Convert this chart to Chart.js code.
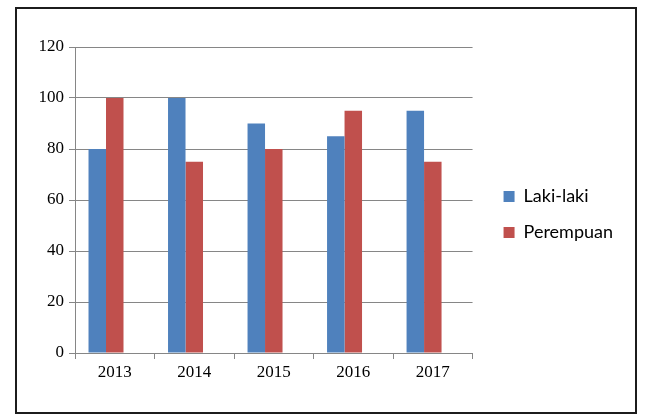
<!DOCTYPE html>
<html>
<head>
<meta charset="utf-8">
<script src="https://cdn.jsdelivr.net/npm/chart.js@4"></script>
<style>
  html, body { margin: 0; padding: 0; background: #fff; }
  #wrap { position: relative; width: 647px; height: 420px; }
  #frame { position: absolute; left: 15px; top: 7px; width: 618px; height: 403px;
           border: 2px solid #1c1c1c; pointer-events: none; }
</style>
</head>
<body>
<div id="wrap">
  <canvas id="chart" width="647" height="420"></canvas>
  <div id="frame"></div>
</div>
<script>
// data
const years = ['2013', '2014', '2015', '2016', '2017'];
const lakiLaki = [80, 100, 90, 85, 95];
const perempuan = [100, 75, 80, 95, 75];
const emptySlot = [null, null, null, null, null]; // the source leaves a blank slot after each pair
const yTicks = [0, 20, 40, 60, 80, 100, 120];

const gridGray = '#868686';
const legendGap = 13;

// push the legend a bit further from the plot
const legendShift = {
    id: 'legendShift',
    afterLayout(chart) {
        const lg = chart.legend;
        lg.left += legendGap;
        lg.right += legendGap;
    }
};

const ctx = document.getElementById('chart').getContext('2d');
new Chart(ctx, {
    type: 'bar',
    data: {
        labels: years,
        datasets: [
            { label: 'Laki-laki', data: lakiLaki, backgroundColor: '#4F81BD' },
            { label: 'Perempuan', data: perempuan, backgroundColor: '#C0504D' },
            { label: '', data: emptySlot, backgroundColor: 'rgba(0,0,0,0)' }
        ]
    },
    options: {
        responsive: false,
        animation: false,
        layout: { padding: { left: 20, top: 47, right: 37, bottom: 38 } },
        datasets: { bar: { barPercentage: 1, categoryPercentage: 0.66, skipNull: false } },
        plugins: {
            legend: {
                position: 'right',
                align: 'center',
                labels: {
                    font: { family: 'Lato', size: 18 },
                    color: '#000',
                    boxWidth: 11,
                    boxHeight: 11,
                    padding: 18,
                    filter: item => item.text !== ''
                }
            },
            tooltip: { enabled: false }
        },
        scales: {
            x: {
                grid: { offset: true, drawOnChartArea: false, drawTicks: true, tickLength: 6, color: gridGray },
                border: { color: gridGray },
                ticks: { font: { family: 'Liberation Serif', size: 17 }, color: '#000', padding: 3 },
                afterFit: s => { s.height = 29; }
            },
            y: {
                min: 0,
                max: 120,
                afterBuildTicks: s => { s.ticks = yTicks.map(v => ({ value: v })); },
                grid: { color: gridGray, tickLength: 6 },
                border: { color: gridGray },
                ticks: { font: { family: 'Liberation Serif', size: 17 }, color: '#000', padding: 5 },
                afterFit: s => { s.width = 55; }
            }
        }
    },
    plugins: [legendShift]
});
</script>
</body>
</html>
